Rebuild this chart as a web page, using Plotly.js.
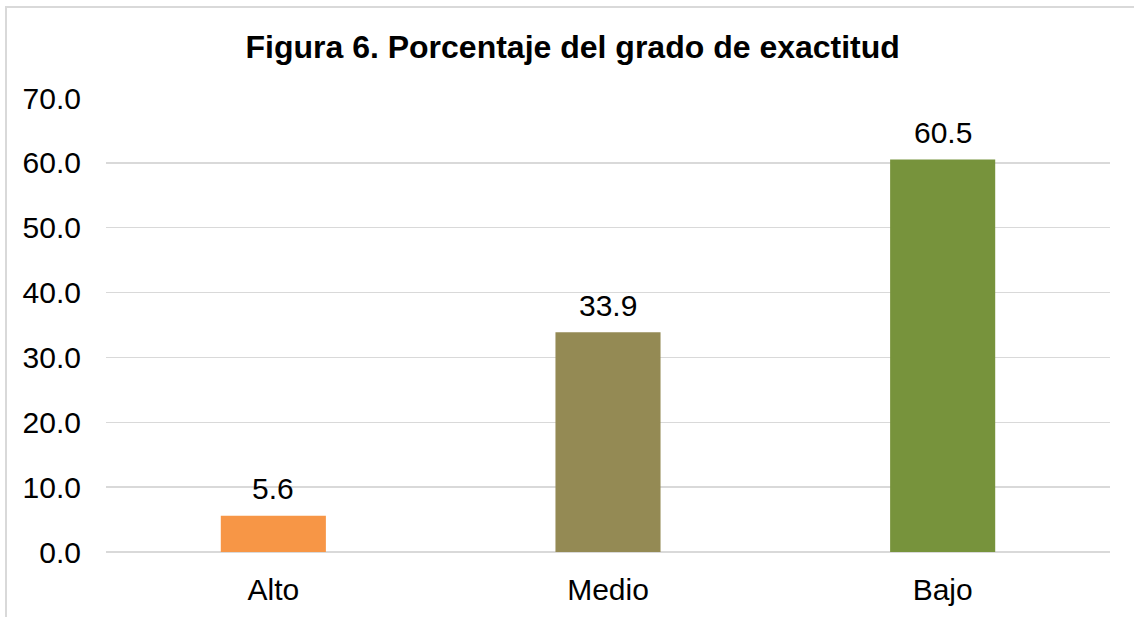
<!DOCTYPE html>
<html>
<head>
<meta charset="utf-8">
<script src="https://cdn.plot.ly/plotly-3.0.1.min.js"></script>
<style>
  html, body { margin: 0; padding: 0; background: #ffffff; }
  #chart { position: absolute; left: 0; top: 0; width: 1134px; height: 617px; }
  #frame { position: absolute; left: 5px; top: 6px; width: 1200px; height: 700px;
           border: 2px solid #d9d9d9; pointer-events: none; }
</style>
</head>
<body>
<div id="chart"></div>
<div id="frame"></div>
<script>
const categories = ["Alto", "Medio", "Bajo"];
const values = [5.6, 33.9, 60.5];
const barColors = ["#F79646", "#948A54", "#77933C"];
const yTicks = [0, 10, 20, 30, 40, 50, 60, 70];
const chartTitle = "Figura 6. Porcentaje del grado de exactitud";

const font = "Liberation Sans, Arial, sans-serif";

const trace = {
  type: "bar",
  x: categories,
  y: values,
  marker: { color: barColors, line: { width: 0 } },
  width: 0.314,
  hoverinfo: "x+y"
};

const labels = categories.map((c, i) => ({
  x: c,
  y: values[i],
  xref: "x",
  yref: "y",
  text: values[i].toFixed(1),
  showarrow: false,
  xanchor: "center",
  yanchor: "middle",
  yshift: 27,
  font: { family: font, size: 30, color: "#000000" }
}));

const layout = {
  width: 1134,
  height: 617,
  margin: { l: 106, r: 24, t: 98, b: 65 },
  paper_bgcolor: "rgba(0,0,0,0)",
  plot_bgcolor: "#ffffff",
  showlegend: false,
  annotations: labels,
  title: {
    text: "<b>" + chartTitle + "</b>",
    font: { family: font, size: 32, color: "#000000" },
    x: 0.505, xref: "container", xanchor: "center",
    y: 1 - 47 / 617, yref: "container", yanchor: "middle"
  },
  xaxis: {
    type: "category",
    showgrid: false,
    zeroline: false,
    showline: false,
    ticks: "",
    ticklabelstandoff: 17,
    tickfont: { family: font, size: 30, color: "#000000" }
  },
  yaxis: {
    range: [0, 70],
    tickvals: yTicks,
    tickformat: ".1f",
    showgrid: true,
    gridcolor: "#d9d9d9",
    gridwidth: 1.5,
    zeroline: true,
    zerolinecolor: "#d9d9d9",
    zerolinewidth: 1.5,
    showline: false,
    ticks: "",
    ticklabelstandoff: 24,
    tickfont: { family: font, size: 30, color: "#000000" }
  }
};

Plotly.newPlot("chart", [trace], layout, { displayModeBar: false, staticPlot: true });
</script>
</body>
</html>
